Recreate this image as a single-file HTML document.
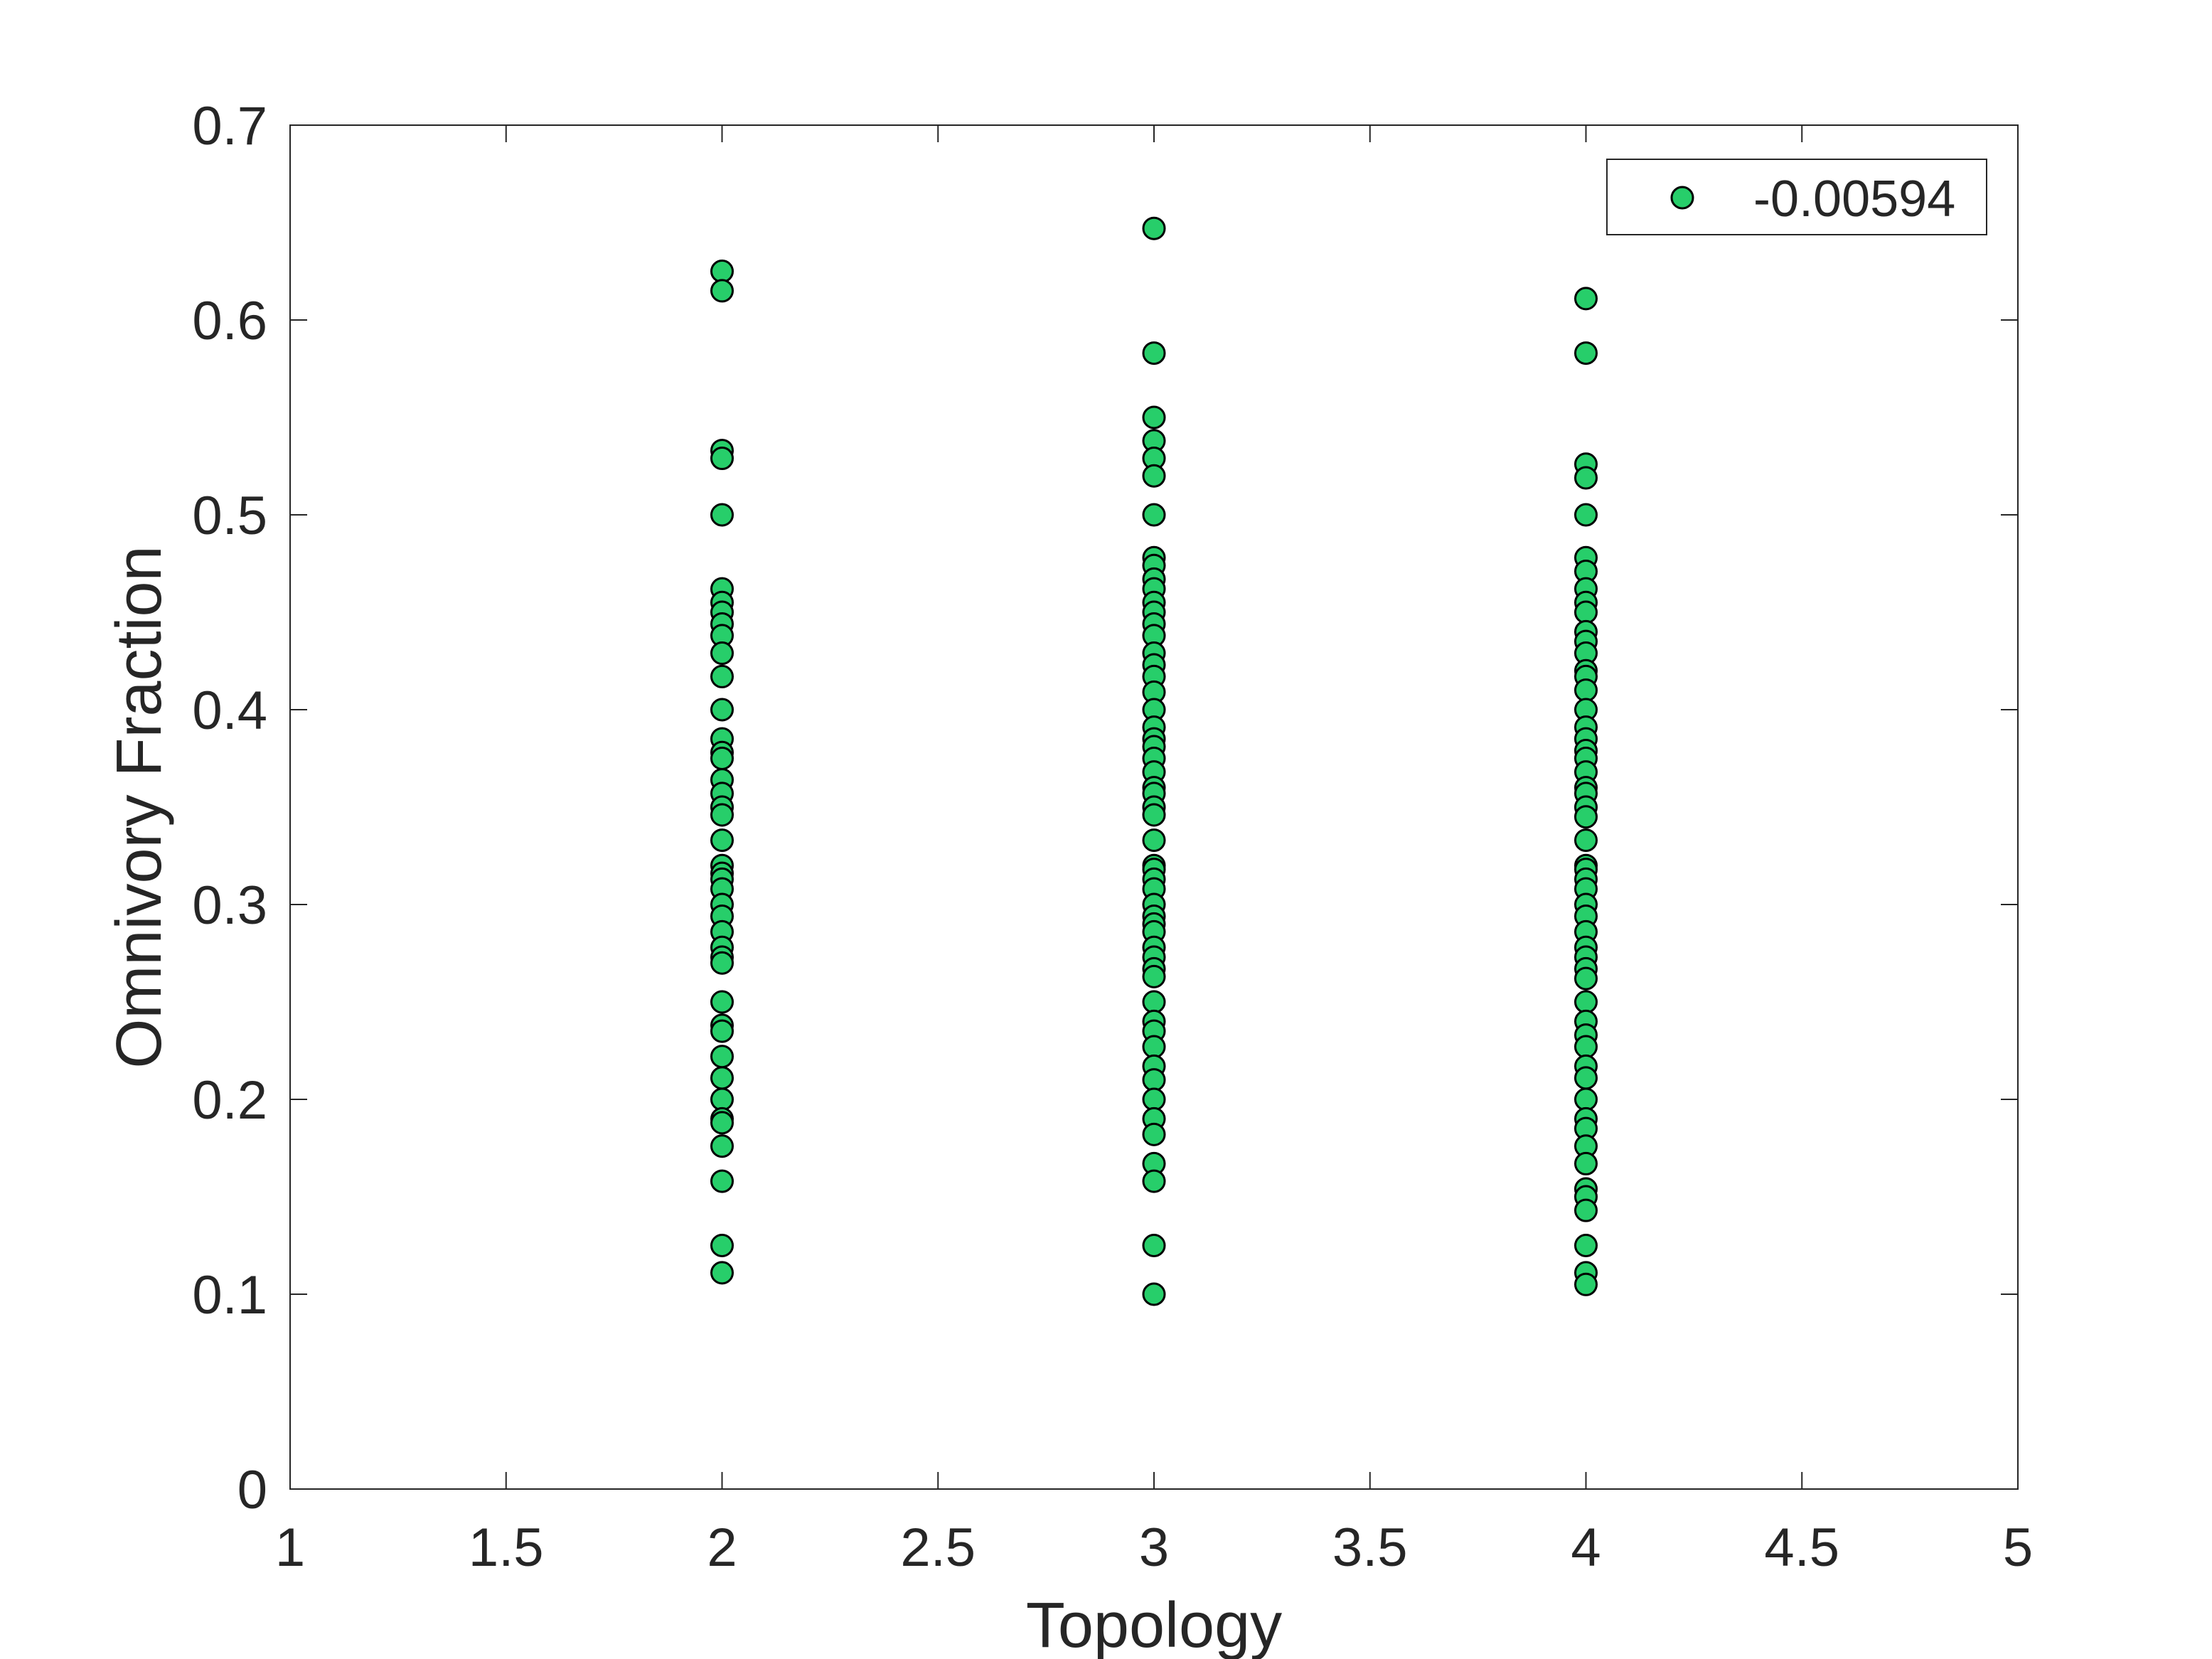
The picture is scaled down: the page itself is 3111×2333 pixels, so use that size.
<!DOCTYPE html>
<html><head><meta charset="utf-8"><style>
html,body{margin:0;padding:0;background:#fff}
svg{display:block}
text{font-family:"Liberation Sans",Arial,sans-serif;fill:#262626}
</style></head><body>
<svg id="chart" width="3111" height="2333" viewBox="0 0 3111 2333" xmlns="http://www.w3.org/2000/svg">
<rect width="3111" height="2333" fill="#fff"/>
<g id="ticks"></g>
<g id="points"></g>
<rect x="408" y="176" width="2430" height="1918" fill="none" stroke="#262626" stroke-width="2"/>
<text x="1623" y="2316" font-size="90" text-anchor="middle">Topology</text>
<text transform="translate(226,1135) rotate(-90)" font-size="90" text-anchor="middle">Omnivory Fraction</text>
<g>
<rect x="2260" y="224" width="534" height="106" fill="#fff" stroke="#262626" stroke-width="2"/>
<circle cx="2366" cy="278" r="15" fill="#27ce6a" stroke="#000" stroke-width="3"/>
<text x="2466" y="304" font-size="72">-0.00594</text>
</g>
</svg>
<script>
const xTicks=[1,1.5,2,2.5,3,3.5,4,4.5,5];
const xTickLabels=["1","1.5","2","2.5","3","3.5","4","4.5","5"];
const yTicks=[0,0.1,0.2,0.3,0.4,0.5,0.6,0.7];
const yTickLabels=["0","0.1","0.2","0.3","0.4","0.5","0.6","0.7"];
const topo2=[0.625,0.615,0.533,0.529,0.5,0.462,0.455,0.45,0.444,0.438,0.429,0.417,0.4,0.385,0.378,0.375,0.364,0.357,0.35,0.346,0.333,0.32,0.316,0.313,0.308,0.3,0.294,0.286,0.278,0.273,0.27,0.25,0.238,0.235,0.222,0.211,0.2,0.19,0.188,0.176,0.158,0.125,0.111];
const topo3=[0.647,0.583,0.55,0.538,0.529,0.52,0.5,0.478,0.474,0.467,0.462,0.455,0.45,0.444,0.438,0.429,0.423,0.417,0.409,0.4,0.391,0.385,0.381,0.375,0.368,0.36,0.357,0.35,0.346,0.333,0.32,0.318,0.313,0.308,0.3,0.294,0.29,0.286,0.278,0.273,0.267,0.263,0.25,0.24,0.235,0.227,0.217,0.21,0.2,0.19,0.182,0.167,0.158,0.125,0.1];
const topo4=[0.611,0.583,0.526,0.519,0.5,0.478,0.471,0.462,0.455,0.45,0.44,0.435,0.429,0.42,0.417,0.41,0.4,0.391,0.385,0.379,0.375,0.368,0.36,0.357,0.35,0.345,0.333,0.32,0.318,0.313,0.308,0.3,0.294,0.286,0.278,0.273,0.267,0.262,0.25,0.24,0.233,0.227,0.217,0.211,0.2,0.19,0.185,0.176,0.167,0.154,0.15,0.143,0.125,0.111,0.105];
const groupX=[2,3,4];
const NS="http://www.w3.org/2000/svg";
const L=408,R=2838,T=176,B=2094;
function xs(v){return L+(v-1)/(5-1)*(R-L);}
function ys(v){return B-(v-0)/(0.7-0)*(B-T);}
const tg=document.getElementById('ticks');
function mk(tag,attrs,parent){const e=document.createElementNS(NS,tag);for(const k in attrs)e.setAttribute(k,attrs[k]);parent.appendChild(e);return e;}
xTicks.forEach((v,i)=>{
  const x=xs(v);
  const t1=mk('line',{x1:x,x2:x,y1:B,y2:B-24,stroke:'#262626','stroke-width':2},tg);
  
  
  const t2=mk('line',{x1:x,x2:x,y1:T,y2:T+24,stroke:'#262626','stroke-width':2},tg);
  
  
  const lb=mk('text',{x:x,y:2202,'font-size':76,'text-anchor':'middle'},tg);
  lb.textContent=xTickLabels[i];
  
  
});
yTicks.forEach((v,i)=>{
  const y=ys(v);
  const t1=mk('line',{x1:L,x2:L+24,y1:y,y2:y,stroke:'#262626','stroke-width':2},tg);
  
  
  const t2=mk('line',{x1:R,x2:R-24,y1:y,y2:y,stroke:'#262626','stroke-width':2},tg);
  
  
  const lb=mk('text',{x:376,y:y+27,'font-size':76,'text-anchor':'end'},tg);
  lb.textContent=yTickLabels[i];
  
  
});
const pg=document.getElementById('points');
[topo2,topo3,topo4].forEach((arr,g)=>{
  arr.forEach(v=>{
    const c=mk('circle',{cx:xs(groupX[g]),cy:ys(v),r:15,fill:'#27ce6a',stroke:'#000','stroke-width':3},pg);
    
    
  });
});
</script>
</body></html>
